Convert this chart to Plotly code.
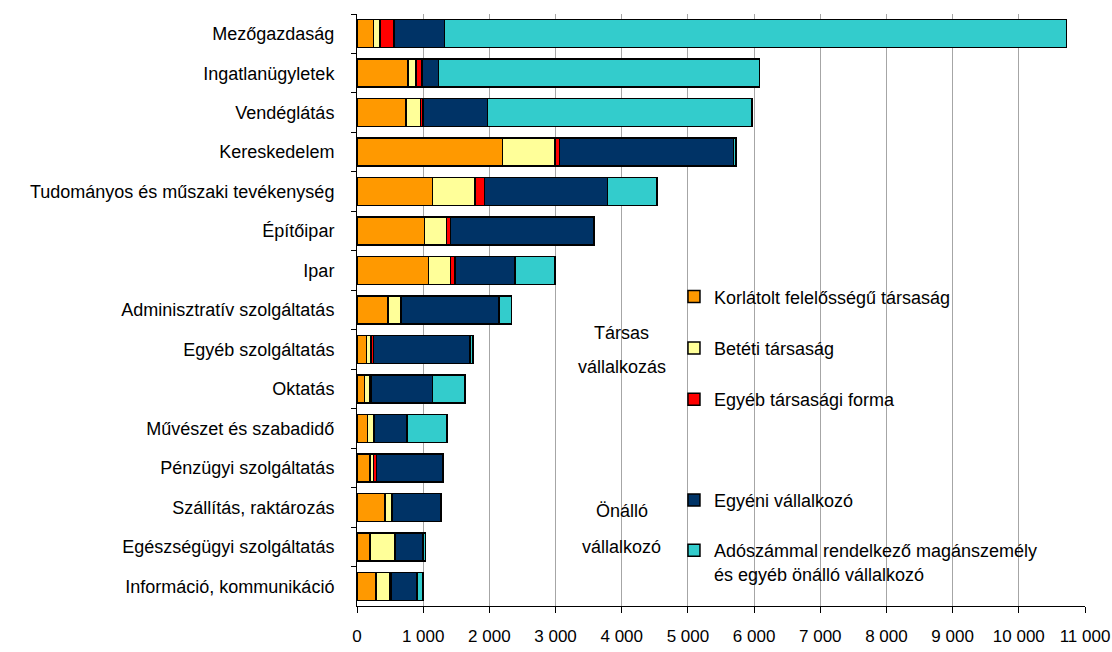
import plotly.graph_objects as go

categories = [
    "Mezőgazdaság", "Ingatlanügyletek", "Vendéglátás", "Kereskedelem",
    "Tudományos és műszaki tevékenység", "Építőipar", "Ipar",
    "Adminisztratív szolgáltatás", "Egyéb szolgáltatás", "Oktatás",
    "Művészet és szabadidő", "Pénzügyi szolgáltatás", "Szállítás, raktározás",
    "Egészségügyi szolgáltatás", "Információ, kommunikáció",
]
kft = [250, 770, 740, 2200, 1140, 1020, 1080, 470, 140, 110, 160, 200, 420, 200, 285]
bt = [100, 125, 220, 790, 640, 335, 335, 185, 70, 90, 95, 50, 110, 365, 215]
egyeb_tars = [210, 90, 35, 70, 150, 60, 65, 15, 40, 10, 10, 45, 10, 10, 10]
egyeni = [760, 250, 975, 2630, 1855, 2160, 910, 1475, 1455, 930, 490, 1000, 730, 420, 400]
adoszamos = [9400, 4850, 4000, 40, 750, 5, 600, 190, 50, 490, 605, 5, 10, 40, 90]

series_names = [
    "Korlátolt felelősségű társaság",
    "Betéti társaság",
    "Egyéb társasági forma",
    "Egyéni vállalkozó",
    "Adószámmal rendelkező magánszemély<br>és egyéb önálló vállalkozó",
]
series_values = [kft, bt, egyeb_tars, egyeni, adoszamos]
series_colors = ["#FF9900", "#FFFF99", "#FF0000", "#003366", "#33CCCC"]
series_legends = ["legend", "legend", "legend", "legend2", "legend2"]

FONT = "Liberation Sans, Arial, sans-serif"

fig = go.Figure()
for i, (name, vals, col, lg) in enumerate(zip(series_names, series_values, series_colors, series_legends)):
    fig.add_trace(go.Bar(
        y=categories, x=vals, name=name, orientation="h",
        marker=dict(color=col, line=dict(color="black", width=1.5)),
        legend=lg, legendgroup=f"g{i}",
    ))

W, H = 1112, 652
L, R, T, B = 357, 27, 14, 46

fig.update_layout(
    width=W, height=H,
    margin=dict(l=L, r=R, t=T, b=B, autoexpand=False),
    barmode="stack", bargap=0.29,
    plot_bgcolor="white", paper_bgcolor="white",
    separators=", ",
    font=dict(family=FONT, size=18, color="black"),
    showlegend=True,
    legend=dict(
        x=0.4354, y=0.5535, xanchor="left", yanchor="top",
        traceorder="grouped", tracegroupgap=25,
        bgcolor="rgba(0,0,0,0)", font=dict(size=18), valign="top",
    ),
    legend2=dict(
        x=0.4354, y=0.210, xanchor="left", yanchor="top",
        traceorder="grouped", tracegroupgap=24,
        bgcolor="rgba(0,0,0,0)", font=dict(size=18), valign="top",
    ),
    xaxis=dict(
        range=[0, 11000], dtick=1000, tick0=0, tickformat=",d",
        showgrid=True, gridcolor="#A6A6A6", gridwidth=1,
        showline=True, linecolor="black", linewidth=1,
        ticks="outside", ticklen=6, tickcolor="black",
        ticklabelstandoff=9, zeroline=False, automargin=False,
        tickfont=dict(size=17),
    ),
    yaxis=dict(
        autorange="reversed", type="category",
        showline=True, linecolor="black", linewidth=1,
        ticks="outside", ticklen=5, tickcolor="black", tickson="boundaries",
        ticklabelstandoff=18, showgrid=False, automargin=False,
        tickfont=dict(size=18),
    ),
)

# white areas hiding gridlines behind legend and group labels
fig.add_shape(type="rect", xref="paper", yref="paper", x0=0.449, x1=0.993, y0=0, y1=0.552,
              fillcolor="white", line=dict(width=0), layer="between")
fig.add_shape(type="rect", xref="paper", yref="paper", x0=0.3, x1=0.43, y0=0.365, y1=0.49,
              fillcolor="white", line=dict(width=0), layer="between")
fig.add_shape(type="rect", xref="paper", yref="paper", x0=0.3, x1=0.43, y0=0.066, y1=0.189,
              fillcolor="white", line=dict(width=0), layer="between")

for text, yy in [("Társas", 0.461), ("vállalkozás", 0.404), ("Önálló", 0.160), ("vállalkozó", 0.0997)]:
    fig.add_annotation(x=4000, xref="x", y=yy, yref="paper", text=text, showarrow=False,
                       font=dict(size=18, family=FONT, color="black"),
                       xanchor="center", yanchor="middle")

fig.write_html(
    "out.html",
    config={"displayModeBar": False},
    post_script="document.body.style.margin='0';document.body.style.overflow='hidden';",
)
